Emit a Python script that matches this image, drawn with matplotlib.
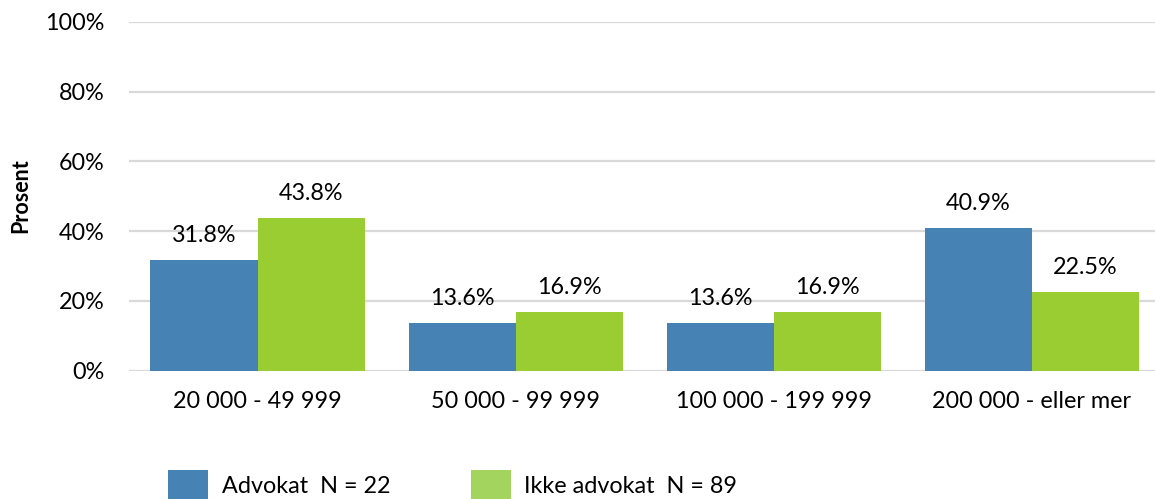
import matplotlib
matplotlib.use("Agg")
import matplotlib.pyplot as plt
import numpy as np
from matplotlib.ticker import FuncFormatter
from matplotlib.patches import Patch

categories = ["20 000 - 49 999", "50 000 - 99 999", "100 000 - 199 999", "200 000 - eller mer"]
advokat = [31.8, 13.6, 13.6, 40.9]
ikke_advokat = [43.8, 16.9, 16.9, 22.5]
series_labels = ["Advokat  N = 22", "Ikke advokat  N = 89"]
yticks = [0, 20, 40, 60, 80, 100]

blue = "#4682B4"
green = "#9ACD32"
legend_green = "#A2D45E"

plt.rcParams["font.family"] = ["Lato", "DejaVu Sans"]

W, H = 1155, 499
fig = plt.figure(figsize=(W / 100, H / 100), dpi=100)
ax = fig.add_axes([128.5 / W, (H - 370.5) / H, (1161 - 128.5) / W, (370.5 - 22) / H])

fs = 16.8
x = np.arange(len(categories))
bw = 0.415
b1 = ax.bar(x - bw / 2, advokat, bw, color=blue, zorder=3)
b2 = ax.bar(x + bw / 2, ikke_advokat, bw, color=green, zorder=3)

for bars, vals in ((b1, advokat), (b2, ikke_advokat)):
    for rect, v in zip(bars, vals):
        ax.annotate(f"{v:.1f}%", (rect.get_x() + rect.get_width() / 2, v),
                    xytext=(0, 10), textcoords="offset points",
                    ha="center", va="bottom", fontsize=fs, color="#000000")

ax.set_xlim(-0.5, 3.5)
ax.set_ylim(0, 100)
ax.set_yticks(yticks)
ax.yaxis.set_major_formatter(FuncFormatter(lambda v, p: f"{v:.0f}%"))
ax.set_xticks(x)
ax.set_xticklabels(categories)
ax.tick_params(axis="both", length=0, labelsize=fs)
ax.tick_params(axis="y", pad=17)
ax.tick_params(axis="x", pad=15)
ax.grid(axis="y", color="#D9D9D9", linewidth=1.6, zorder=0)
for s in ax.spines.values():
    s.set_visible(False)

fig.text(21 / W, 1 - 196 / H, "Prosent", rotation=90, ha="center", va="center",
         fontsize=15.5, fontweight="bold")

handles = [Patch(facecolor=blue), Patch(facecolor=legend_green)]
fs_px = fs * 100 / 72
fig.legend(handles, series_labels, loc="upper left",
           bbox_to_anchor=(168 / W, 1 - 470 / H), ncol=2, frameon=False,
           fontsize=fs, handlelength=40 / fs_px, handleheight=40 / fs_px,
           handletextpad=14 / fs_px, columnspacing=80 / fs_px,
           borderpad=0, borderaxespad=0)

fig.savefig("out.png", dpi=100)
